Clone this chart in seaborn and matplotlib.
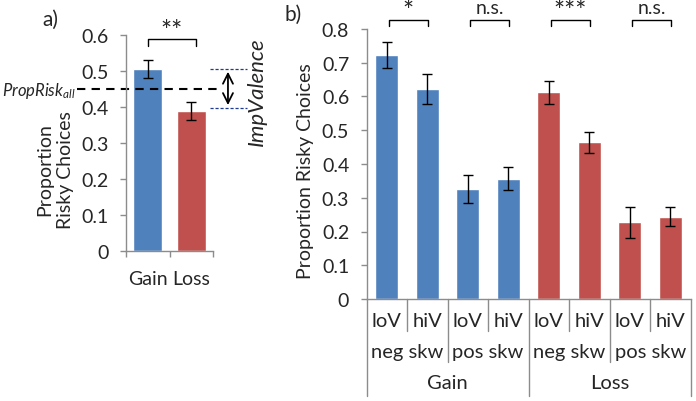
import numpy as np
import pandas as pd
import matplotlib
matplotlib.use('Agg')
import matplotlib.pyplot as plt
import seaborn as sns

# panel a data
A_CONDITIONS = ['Gain', 'Loss']
A_MEANS = [0.505, 0.388]
A_ERR = [0.024, 0.025]
PROP_RISK_ALL = 0.448
A_SIG = '**'

# panel b data
B_VALENCE = ['Gain'] * 4 + ['Loss'] * 4
B_SKEW = ['neg skw', 'neg skw', 'pos skw', 'pos skw'] * 2
B_VAR = ['loV', 'hiV'] * 4
B_MEANS = [0.723, 0.622, 0.326, 0.356, 0.612, 0.464, 0.227, 0.244]
B_ERR = [0.038, 0.044, 0.041, 0.034, 0.034, 0.031, 0.046, 0.029]
B_SIG = ['*', 'n.s.', '***', 'n.s.']

BLUE = '#4F81BD'
RED = '#C0504D'
GRAY = '#8C8C8C'
W, H = 696, 402
FS = 14

sns.set_style('white')
plt.rcParams['font.family'] = ['Lato', 'DejaVu Sans']
plt.rcParams['mathtext.fontset'] = 'custom'
plt.rcParams['mathtext.it'] = 'Lato:italic'
plt.rcParams['mathtext.rm'] = 'Lato'


def fig_rect(left, top, right, bottom):
    return [left / W, 1 - bottom / H, (right - left) / W, (bottom - top) / H]


def style_axes(ax):
    sns.despine(ax=ax)
    for side in ['left', 'bottom']:
        ax.spines[side].set_color(GRAY)
        ax.spines[side].set_linewidth(1)
    ax.tick_params(axis='y', which='major', length=4.5, color=GRAY, width=1,
                   labelsize=FS, pad=8, left=True)
    ax.set_xlabel('')
    ax.set_ylabel('')


def bracket(ax, x0, x1, y, drop, label, label_y, size):
    ax.plot([x0, x0, x1, x1], [y - drop, y, y, y - drop], color='black',
            lw=1, clip_on=False)
    ax.text((x0 + x1) / 2, label_y, label, ha='center', va='center',
            fontsize=size, clip_on=False)


fig = plt.figure(figsize=(W / 100, H / 100), dpi=100)

# ---------------- panel a ----------------
ax_a = fig.add_axes(fig_rect(126, 35.7, 213, 252))
df_a = pd.DataFrame({'condition': A_CONDITIONS, 'prop': A_MEANS})
sns.barplot(data=df_a, x='condition', y='prop', hue='condition',
            palette=[BLUE, RED], saturation=1, width=0.67, errorbar=None,
            legend=False, ax=ax_a)
ax_a.errorbar(range(len(A_MEANS)), A_MEANS, yerr=A_ERR, fmt='none',
              ecolor='black', elinewidth=1, capsize=3.5, capthick=1)
ax_a.set_xlim(-0.5, 1.5)
ax_a.set_ylim(0, 0.6)
ax_a.set_yticks(np.arange(0, 0.61, 0.1))
ax_a.set_yticklabels(['0', '0.1', '0.2', '0.3', '0.4', '0.5', '0.6'])
style_axes(ax_a)
ax_a.set_xticks([0, 1])
ax_a.set_xticklabels(A_CONDITIONS)
ax_a.set_xticks([-0.5, 0.5, 1.5], minor=True)
ax_a.tick_params(axis='x', which='major', length=0, labelsize=FS, pad=14)
ax_a.tick_params(axis='x', which='minor', length=4.5, color=GRAY, width=1,
                 bottom=True)

ytr = ax_a.get_yaxis_transform()
ax_a.plot([-0.563, 1.08], [PROP_RISK_ALL] * 2, transform=ytr, color='black',
          lw=1.5, ls=(0, (4, 3)), clip_on=False)
for v in [A_MEANS[0], A_MEANS[1] + 0.009]:
    ax_a.plot([0.966, 1.39], [v, v], transform=ytr, color='#1F3A93',
              lw=0.9, ls=(0, (2.5, 1.5)), clip_on=False)
ax_a.annotate('', xy=(1.172, A_MEANS[0]), xytext=(1.172, A_MEANS[1] + 0.009),
              xycoords=ytr, textcoords=ytr,
              arrowprops=dict(arrowstyle='<->', color='black', lw=1.3,
                              mutation_scale=18))
bracket(ax_a, 0.0, 1.1, 0.589, 0.02, A_SIG, 0.610, 19)

fig.text(76 / W, 1 - 91 / H, r'$PropRisk_{all}$', ha='right', va='center',
         fontsize=12)
fig.text(257 / W, 1 - 92 / H, 'ImpValence', rotation=90, style='italic',
         ha='center', va='center', fontsize=16)
fig.text(55 / W, 1 - 170 / H, 'Proportion\nRisky Choices', rotation=90,
         ha='center', va='center', fontsize=FS, linespacing=1.25)
fig.text(50 / W, 1 - 20 / H, 'a)', ha='center', va='center', fontsize=FS + 1)

# ---------------- panel b ----------------
ax_b = fig.add_axes(fig_rect(366.5, 30, 690.7, 300))
df_b = pd.DataFrame({'valence': B_VALENCE, 'skew': B_SKEW, 'var': B_VAR,
                     'prop': B_MEANS})
df_b['cond'] = df_b['valence'] + ' ' + df_b['skew'] + ' ' + df_b['var']
sns.barplot(data=df_b, x='cond', y='prop', hue='valence',
            palette={'Gain': BLUE, 'Loss': RED}, saturation=1, width=0.57,
            dodge=False, errorbar=None, legend=False, ax=ax_b)
ax_b.errorbar(range(len(B_MEANS)), B_MEANS, yerr=B_ERR, fmt='none',
              ecolor='black', elinewidth=1, capsize=3.5, capthick=1)
ax_b.set_xlim(-0.5, len(B_MEANS) - 0.5)
ax_b.set_ylim(0, 0.8)
ax_b.set_yticks(np.arange(0, 0.81, 0.1))
ax_b.set_yticklabels(['0', '0.1', '0.2', '0.3', '0.4', '0.5', '0.6', '0.7',
                      '0.8'])
style_axes(ax_b)
ax_b.set_xticks([])

# multi-level category axis
xtr = ax_b.get_xaxis_transform()
row_y = [-0.081, -0.196, -0.311]
depth = [-0.119, -0.233, -0.359]
n = len(B_MEANS)
for i in range(n):
    ax_b.text(i, row_y[0], B_VAR[i], transform=xtr, ha='center',
              va='center', fontsize=FS + 0.5)
for i in range(0, n, 2):
    ax_b.text(i + 0.5, row_y[1], B_SKEW[i], transform=xtr, ha='center',
              va='center', fontsize=FS + 0.5)
for i in range(0, n, 4):
    ax_b.text(i + 1.5, row_y[2], B_VALENCE[i], transform=xtr, ha='center',
              va='center', fontsize=FS + 0.5)
for k in range(n + 1):
    edge = k - 0.5
    if k % 4 == 0:
        d = depth[2]
    elif k % 2 == 0:
        d = depth[1]
    else:
        d = depth[0]
    ax_b.plot([edge, edge], [0, d], transform=xtr, color=GRAY, lw=1,
              clip_on=False)

for j, sig in enumerate(B_SIG):
    i = 2 * j
    star = '*' in sig
    bracket(ax_b, i + 0.05, i + 1.02, 0.827, 0.018, sig,
            0.852 if star else 0.864, 19 if star else FS)

fig.text(305 / W, 1 - 171 / H, 'Proportion Risky Choices', rotation=90,
         ha='center', va='center', fontsize=FS)
fig.text(293 / W, 1 - 15 / H, 'b)', ha='center', va='center', fontsize=FS + 1)

fig.savefig('out.png', dpi=100)
